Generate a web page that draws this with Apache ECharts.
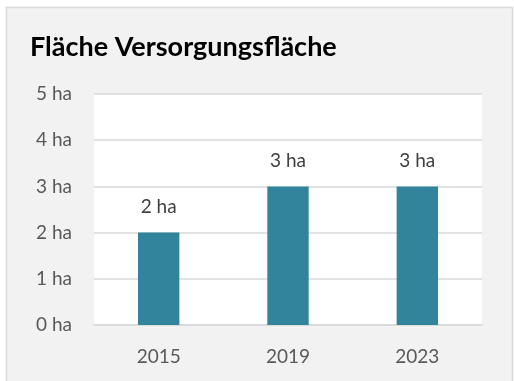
<!DOCTYPE html>
<html>
<head>
<meta charset="utf-8">
<script src="https://cdn.jsdelivr.net/npm/echarts@6/dist/echarts.min.js"></script>
<style>
  html, body { margin: 0; padding: 0; background: #ffffff; }
  #chart { width: 514px; height: 381px; }
</style>
</head>
<body>
<div id="chart"></div>
<script>
// Versorgungsfläche per survey year, in hectares
const years = ['2015', '2019', '2023'];
const areaHa = [2, 3, 3];
const axisMin = 0;
const axisMax = 5;
const axisStep = 1;
const unit = 'ha';
const title = 'Fläche Versorgungsfläche';

const chart = echarts.init(document.getElementById('chart'), null, { renderer: 'canvas' });

const fontFamily = 'Lato, "Open Sans", sans-serif';

chart.setOption({
  animation: false,
  backgroundColor: '#ffffff',
  graphic: [
    {
      type: 'rect',
      z: -10,
      silent: true,
      shape: { x: 6.5, y: 7.5, width: 506, height: 380 },
      style: { fill: '#f2f2f2', stroke: '#d9d9d9', lineWidth: 1.5 }
    }
  ],
  title: {
    text: title,
    left: 25,
    top: 29,
    textStyle: { fontFamily: fontFamily, fontWeight: 'bold', fontSize: 27, color: '#000000' }
  },
  grid: {
    left: 94,
    right: 32,
    top: 94,
    bottom: 56,
    show: true,
    backgroundColor: '#ffffff',
    borderWidth: 0
  },
  xAxis: {
    type: 'category',
    data: years,
    axisLine: { show: true, lineStyle: { color: '#d9d9d9', width: 1.5 } },
    axisTick: { show: false },
    axisLabel: { color: '#595959', fontFamily: fontFamily, fontSize: 19, margin: 22 }
  },
  yAxis: {
    type: 'value',
    min: axisMin,
    max: axisMax,
    interval: axisStep,
    axisLine: { show: false },
    axisTick: { show: false },
    splitLine: { lineStyle: { color: '#d9d9d9', width: 1.5 } },
    axisLabel: {
      color: '#595959',
      fontFamily: fontFamily,
      fontSize: 19,
      margin: 22,
      formatter: v => v + ' ' + unit
    }
  },
  series: [
    {
      type: 'bar',
      data: areaHa,
      barWidth: '32%',
      itemStyle: { color: '#31849b' },
      label: {
        show: true,
        position: 'top',
        distance: 16,
        color: '#404040',
        fontFamily: fontFamily,
        fontSize: 19,
        formatter: p => p.value + ' ' + unit
      }
    }
  ]
});
</script>
</body>
</html>
